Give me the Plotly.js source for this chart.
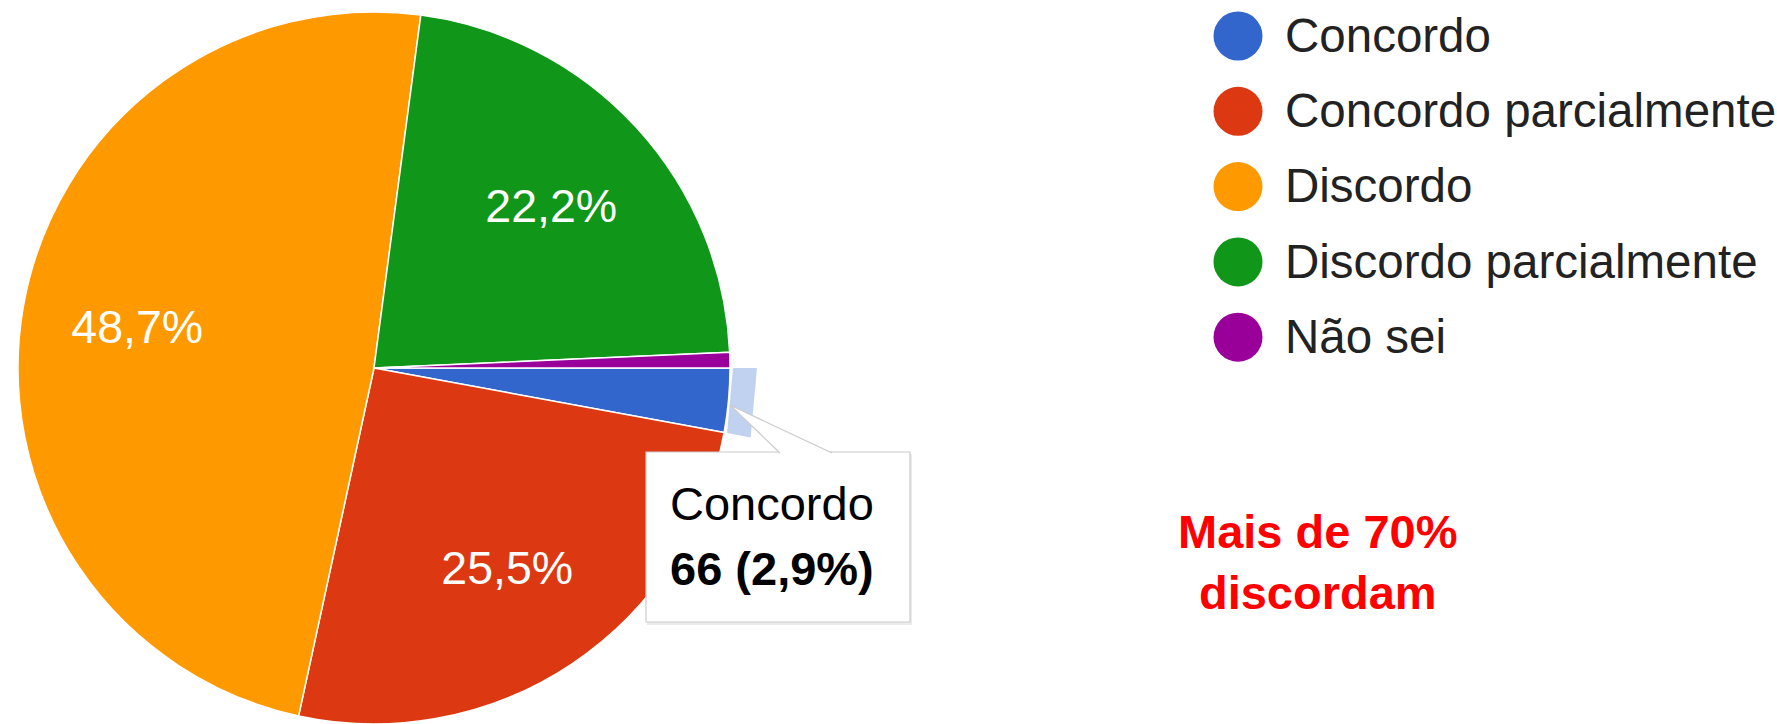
<!DOCTYPE html>
<html>
<head>
<meta charset="utf-8">
<script src="https://cdn.plot.ly/plotly-3.0.1.min.js"></script>
<style>html,body{margin:0;padding:0;background:#fff;}#chart{width:1777px;height:724px;}</style>
</head>
<body>
<div id="chart"></div>
<script>
// ---- data ----
const categories = ["Concordo", "Concordo parcialmente", "Discordo", "Discordo parcialmente", "Não sei"];
const counts = [66, 580, 1108, 505, 16];
const colors = ["#3366cc", "#dc3912", "#ff9900", "#109618", "#990099"];
const showPctLabel = [false, true, true, true, false];
const tooltipIndex = 0;
const note = ["Mais de 70%", "discordam"];

// ---- layout constants ----
const W = 1777, H = 724;
const CX = 374, CY = 368, R = 356;
const FONT = "Liberation Sans, Arial, sans-serif";
const ROT = 90;
const px = x => x / W;
const py = y => 1 - y / H;

const domain = { x: [px(CX - R), px(CX + R)], y: [Math.max(0, py(CY + R)), py(CY - R)] };

const pieMain = {
  type: "pie", labels: categories, values: counts, sort: false, direction: "clockwise",
  rotation: ROT, domain: domain, marker: { colors: colors, line: { color: "#ffffff", width: 1.5 } },
  textinfo: "none", hoverinfo: "skip", showlegend: false
};
const pieText = {
  type: "pie", labels: categories, values: counts, sort: false, direction: "clockwise",
  rotation: ROT, domain: domain, hole: 0.35,
  marker: { colors: categories.map(() => "rgba(0,0,0,0)"), line: { width: 0 } },
  texttemplate: showPctLabel.map(s => s ? "%{percent:.1%}" : ""),
  textposition: "inside", insidetextorientation: "horizontal",
  textfont: { family: FONT, size: 46.5, color: "#ffffff" },
  hoverinfo: "skip", showlegend: false
};

// legend built as scatter on pixel-unit axes
const legendMarkers = {
  type: "scatter", mode: "markers", x: categories.map(() => 1238), y: categories,
  marker: { size: 49, color: colors, line: { width: 0 } }, hoverinfo: "skip", showlegend: false
};
const legendText = {
  type: "scatter", mode: "text", x: categories.map(() => 1285), y: categories, text: categories,
  xaxis: "x", yaxis: "y2",
  textposition: "middle right", textfont: { family: FONT, size: 47.5, color: "#222222" },
  hoverinfo: "skip", showlegend: false
};

// highlight ring of the tooltip slice, from the data
const total = counts.reduce((a, b) => a + b, 0);
let cum = 0; for (let i = 0; i < tooltipIndex; i++) cum += counts[i];
const a0 = (ROT + 360 * cum / total) * Math.PI / 180;
const a1 = (ROT + 360 * (cum + counts[tooltipIndex]) / total) * Math.PI / 180;
const rin = R + 3, rout = R + 27;
const pt = (r, a) => [px(CX + r * Math.sin(a)), py(CY - r * Math.cos(a))];
const p1 = pt(rout, a0), p2 = pt(rout, a1), p3 = pt(rin, a1), p4 = pt(rin, a0);
const ringPath = `M${p1[0]},${p1[1]} L${p2[0]},${p2[1]} L${p3[0]},${p3[1]} L${p4[0]},${p4[1]} Z`;

const pct = (100 * counts[tooltipIndex] / total).toFixed(1).replace(".", ",");
const tipLine2 = `${counts[tooltipIndex]} (${pct}%)`;

// tooltip box geometry
const BX0 = 646, BX1 = 910, BY0 = 452, BY1 = 622;
const triPath = `M${px(780)},${py(453)} L${px(730)},${py(405)} L${px(832)},${py(453)}`;

const layout = {
  width: W, height: H, margin: { l: 0, r: 0, t: 0, b: 0 },
  paper_bgcolor: "#ffffff", plot_bgcolor: "rgba(0,0,0,0)",
  separators: ",.", showlegend: false,
  xaxis: { range: [0, W], domain: [0, 1], visible: false, fixedrange: true },
  yaxis: { type: "category", range: [9.137, -0.478], domain: [0, 1], visible: false, fixedrange: true },
  yaxis2: { type: "category", overlaying: "y", range: [9.084, -0.531], visible: false, fixedrange: true },
  shapes: [
    { type: "path", xref: "paper", yref: "paper", path: ringPath, fillcolor: "rgba(51,102,204,0.3)", line: { width: 0 } },
    { type: "rect", xref: "paper", yref: "paper", x0: px(BX0 + 1), x1: px(BX1 + 2), y0: py(BY0 + 2), y1: py(BY1 + 3), fillcolor: "rgba(0,0,0,0.08)", line: { width: 0 } },
    { type: "rect", xref: "paper", yref: "paper", x0: px(BX0), x1: px(BX1), y0: py(BY0), y1: py(BY1), fillcolor: "#ffffff", line: { color: "#cccccc", width: 1.2 } },
    { type: "path", xref: "paper", yref: "paper", path: triPath, fillcolor: "#ffffff", line: { color: "#cccccc", width: 1.2 } }
  ],
  annotations: [
    { xref: "paper", yref: "paper", x: px(668), y: py(503), xanchor: "left", yanchor: "middle", showarrow: false,
      text: categories[tooltipIndex], font: { family: FONT, size: 47, color: "#000000" } },
    { xref: "paper", yref: "paper", x: px(668), y: py(568), xanchor: "left", yanchor: "middle", showarrow: false,
      text: "<b>" + tipLine2 + "</b>", font: { family: FONT, size: 47, color: "#000000" } },
    { xref: "paper", yref: "paper", x: px(1318), y: py(562), xanchor: "center", yanchor: "middle", showarrow: false,
      text: "<b>" + note.join("<br>") + "</b>", align: "center", font: { family: FONT, size: 47, color: "#ff0000" } }
  ]
};

Plotly.newPlot("chart", [pieMain, pieText, legendMarkers, legendText], layout, { staticPlot: true, displayModeBar: false });
</script>
</body>
</html>
